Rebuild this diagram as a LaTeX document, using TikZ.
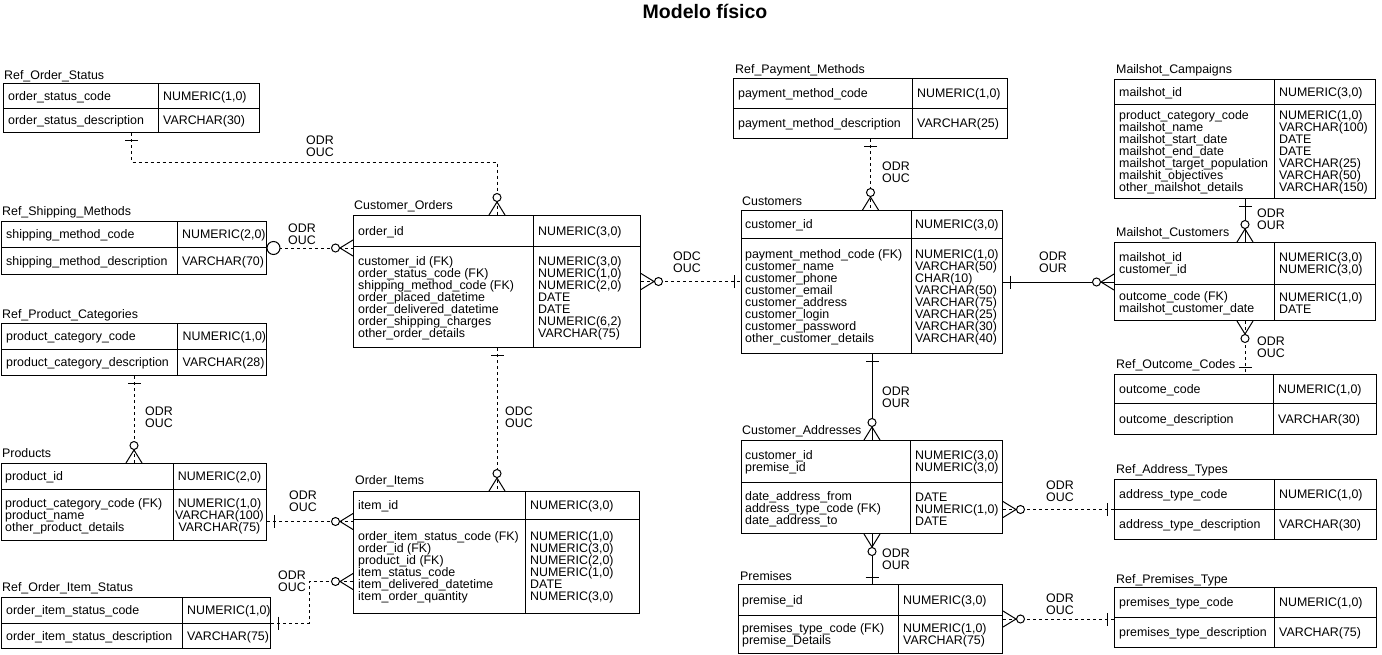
\documentclass[tikz,border=0pt]{standalone}
\usepackage{fontspec}
\setmainfont{Liberation Sans}
\usepackage{tikz}

\begin{document}
\begin{tikzpicture}[x=1pt, y=-1pt,
  tbl/.style={draw, line width=1pt, inner sep=0pt, anchor=north west},
  div/.style={line width=1pt},
  txt/.style={anchor=west, inner sep=0pt, align=left, yshift=-1.5pt, font=\fontsize{12.4}{12}\selectfont},
  rel/.style={line width=1pt},
  reld/.style={rel, dash pattern=on 3pt off 3pt},
  onemark/.pic={\draw[line width=1pt] (7,-6.5) -- (7,6.5);},
  manymark/.pic={\draw[line width=1pt] (0,-8) -- (13,0) -- (0,8);
    \draw[line width=1pt, fill=white] (17.5,0) circle[radius=4pt];},
  ringmark/.pic={\draw[line width=1pt, fill=white] (6.5,0) circle[radius=6.5pt];}]
\fill[white] (0,0) rectangle (1382,654);
\useasboundingbox (0,0) rectangle (1382,654);

\node[inner sep=0pt, font=\fontsize{19.5}{20}\bfseries\selectfont] (title) at (705,11) {Modelo físico};

% left column: reference tables and products
\node[txt] (ros-t) at (4,75) {Ref\_Order\_Status};
\node[tbl, minimum width=256pt, minimum height=49pt] (ros) at (3,83) {};
\draw[div] (3,108) -- (259,108) (158,83) -- (158,132);
\node[txt] (ros-a) at (8,95.5) {order\_status\_code};
\node[txt] (ros-b) at (8,120) {order\_status\_description};
\node[txt] (ros-c) at (163,95.5) {NUMERIC(1,0)};
\node[txt] (ros-d) at (163,120) {VARCHAR(30)};

\node[txt] (rsm-t) at (2,211) {Ref\_Shipping\_Methods};
\node[tbl, minimum width=265pt, minimum height=53pt] (rsm) at (1,221) {};
\draw[div] (1,247) -- (266,247) (177,221) -- (177,274);
\node[txt] (rsm-a) at (6,234) {shipping\_method\_code};
\node[txt] (rsm-b) at (6,260.5) {shipping\_method\_description};
\node[txt] (rsm-c) at (182,234) {NUMERIC(2,0)};
\node[txt] (rsm-d) at (182,260.5) {VARCHAR(70)};

\node[txt] (rpc-t) at (2,314) {Ref\_Product\_Categories};
\node[tbl, minimum width=265pt, minimum height=52pt] (rpc) at (1,323) {};
\draw[div] (1,349) -- (266,349) (177.5,323) -- (177.5,375);
\node[txt] (rpc-a) at (6,336) {product\_category\_code};
\node[txt] (rpc-b) at (6,362) {product\_category\_description};
\node[txt] (rpc-c) at (182.5,336) {NUMERIC(1,0)};
\node[txt] (rpc-d) at (182.5,362) {VARCHAR(28)};

\node[txt] (prod-t) at (2,452) {Products};
\node[tbl, minimum width=265pt, minimum height=77pt] (prod) at (1,463) {};
\draw[div] (1,489) -- (266,489) (173,463) -- (173,540);
\node[txt] (prod-a) at (5,476) {product\_id};
\node[txt] (prod-b) at (5,514.5) {product\_category\_code (FK)\\product\_name\\other\_product\_details};
\node[txt, anchor=center, align=center] (prod-c) at (219.5,476) {NUMERIC(2,0)};
\node[txt, anchor=center, align=center] (prod-d) at (219.5,514.5) {NUMERIC(1,0)\\VARCHAR(100)\\VARCHAR(75)};

\node[txt] (rois-t) at (2,587) {Ref\_Order\_Item\_Status};
\node[tbl, minimum width=269pt, minimum height=51pt] (rois) at (1,597) {};
\draw[div] (1,623) -- (270,623) (182,597) -- (182,648);
\node[txt] (rois-a) at (6,610) {order\_item\_status\_code};
\node[txt] (rois-b) at (6,635.5) {order\_item\_status\_description};
\node[txt] (rois-c) at (187,610) {NUMERIC(1,0)};
\node[txt] (rois-d) at (187,635.5) {VARCHAR(75)};

% middle: orders
\node[txt] (co-t) at (354,205) {Customer\_Orders};
\node[tbl, minimum width=287pt, minimum height=132pt] (co) at (353,215) {};
\draw[div] (353,246) -- (640,246) (533,215) -- (533,347);
\node[txt] (co-a) at (358,230.5) {order\_id};
\node[txt] (co-b) at (358,296.5) {customer\_id (FK)\\order\_status\_code (FK)\\shipping\_method\_code (FK)\\order\_placed\_datetime\\order\_delivered\_datetime\\order\_shipping\_charges\\other\_order\_details};
\node[txt] (co-c) at (538,230.5) {NUMERIC(3,0)};
\node[txt] (co-d) at (538,296.5) {NUMERIC(3,0)\\NUMERIC(1,0)\\NUMERIC(2,0)\\DATE\\DATE\\NUMERIC(6,2)\\VARCHAR(75)};

\node[txt] (oi-t) at (355,480) {Order\_Items};
\node[tbl, minimum width=286pt, minimum height=122pt] (oi) at (353,491) {};
\draw[div] (353,519) -- (639,519) (525,491) -- (525,613);
\node[txt] (oi-a) at (358,505) {item\_id};
\node[txt] (oi-b) at (358,566) {order\_item\_status\_code (FK)\\order\_id (FK)\\product\_id (FK)\\item\_status\_code\\item\_delivered\_datetime\\item\_order\_quantity};
\node[txt] (oi-c) at (530,505) {NUMERIC(3,0)};
\node[txt] (oi-d) at (530,566) {NUMERIC(1,0)\\NUMERIC(3,0)\\NUMERIC(2,0)\\NUMERIC(1,0)\\DATE\\NUMERIC(3,0)};

% right middle: customers
\node[txt] (rpm-t) at (735,69) {Ref\_Payment\_Methods};
\node[tbl, minimum width=274pt, minimum height=60pt] (rpm) at (733,78) {};
\draw[div] (733,108) -- (1007,108) (912,78) -- (912,138);
\node[txt] (rpm-a) at (738,93) {payment\_method\_code};
\node[txt] (rpm-b) at (738,123) {payment\_method\_description};
\node[txt] (rpm-c) at (917,93) {NUMERIC(1,0)};
\node[txt] (rpm-d) at (917,123) {VARCHAR(25)};

\node[txt] (cus-t) at (742,200) {Customers};
\node[tbl, minimum width=261pt, minimum height=143pt] (cus) at (741,210) {};
\draw[div] (741,238) -- (1002,238) (911,210) -- (911,353);
\node[txt] (cus-a) at (745,224) {customer\_id};
\node[txt] (cus-b) at (745,295.5) {payment\_method\_code (FK)\\customer\_name\\customer\_phone\\customer\_email\\customer\_address\\customer\_login\\customer\_password\\other\_customer\_details};
\node[txt] (cus-c) at (915,224) {NUMERIC(3,0)};
\node[txt] (cus-d) at (915,295.5) {NUMERIC(1,0)\\VARCHAR(50)\\CHAR(10)\\VARCHAR(50)\\VARCHAR(75)\\VARCHAR(25)\\VARCHAR(30)\\VARCHAR(40)};

\node[txt] (ca-t) at (742,430) {Customer\_Addresses};
\node[tbl, minimum width=261pt, minimum height=93pt] (ca) at (741,440) {};
\draw[div] (741,482) -- (1002,482) (910,440) -- (910,533);
\node[txt] (ca-a) at (745,461) {customer\_id\\premise\_id};
\node[txt] (ca-b) at (745,507.5) {date\_address\_from\\address\_type\_code (FK)\\date\_address\_to};
\node[txt] (ca-c) at (915,461) {NUMERIC(3,0)\\NUMERIC(3,0)};
\node[txt] (ca-d) at (915,507.5) {DATE\\NUMERIC(1,0)\\DATE};

\node[txt] (prem-t) at (740,575) {Premises};
\node[tbl, minimum width=264pt, minimum height=69pt] (prem) at (738,584) {};
\draw[div] (738,615) -- (1002,615) (898,584) -- (898,653);
\node[txt] (prem-a) at (742,599.5) {premise\_id};
\node[txt] (prem-b) at (742,634) {premises\_type\_code (FK)\\premise\_Details};
\node[txt] (prem-c) at (903,599.5) {NUMERIC(3,0)};
\node[txt] (prem-d) at (903,634) {NUMERIC(1,0)\\VARCHAR(75)};

% right column: mailshots and codes
\node[txt] (mca-t) at (1116,69) {Mailshot\_Campaigns};
\node[tbl, minimum width=261pt, minimum height=119pt] (mca) at (1114,79) {};
\draw[div] (1114,104) -- (1375,104) (1274,79) -- (1274,198);
\node[txt] (mca-a) at (1119,91.5) {mailshot\_id};
\node[txt] (mca-b) at (1119,151) {product\_category\_code\\mailshot\_name\\mailshot\_start\_date\\mailshot\_end\_date\\mailshot\_target\_population\\mailshit\_objectives\\other\_mailshot\_details};
\node[txt] (mca-c) at (1279,91.5) {NUMERIC(3,0)};
\node[txt] (mca-d) at (1279,151) {NUMERIC(1,0)\\VARCHAR(100)\\DATE\\DATE\\VARCHAR(25)\\VARCHAR(50)\\VARCHAR(150)};

\node[txt] (mcu-t) at (1116,232) {Mailshot\_Customers};
\node[tbl, minimum width=261pt, minimum height=78pt] (mcu) at (1114,242) {};
\draw[div] (1114,284) -- (1375,284) (1274,242) -- (1274,320);
\node[txt] (mcu-a) at (1119,263) {mailshot\_id\\customer\_id};
\node[txt] (mcu-b) at (1119,302) {outcome\_code (FK)\\mailshot\_customer\_date};
\node[txt] (mcu-c) at (1279,263) {NUMERIC(3,0)\\NUMERIC(3,0)};
\node[txt] (mcu-d) at (1279,302) {NUMERIC(1,0)\\DATE};

\node[txt] (roc-t) at (1116,364) {Ref\_Outcome\_Codes};
\node[tbl, minimum width=262pt, minimum height=60pt] (roc) at (1114,374) {};
\draw[div] (1114,403) -- (1376,403) (1273,374) -- (1273,434);
\node[txt] (roc-a) at (1119,388.5) {outcome\_code};
\node[txt] (roc-b) at (1119,418.5) {outcome\_description};
\node[txt] (roc-c) at (1278,388.5) {NUMERIC(1,0)};
\node[txt] (roc-d) at (1278,418.5) {VARCHAR(30)};

\node[txt] (rat-t) at (1116,469) {Ref\_Address\_Types};
\node[tbl, minimum width=262pt, minimum height=60pt] (rat) at (1114,479) {};
\draw[div] (1114,509) -- (1376,509) (1274,479) -- (1274,539);
\node[txt] (rat-a) at (1119,494) {address\_type\_code};
\node[txt] (rat-b) at (1119,524) {address\_type\_description};
\node[txt] (rat-c) at (1279,494) {NUMERIC(1,0)};
\node[txt] (rat-d) at (1279,524) {VARCHAR(30)};

\node[txt] (rpt-t) at (1116,579) {Ref\_Premises\_Type};
\node[tbl, minimum width=262pt, minimum height=60pt] (rpt) at (1114,587) {};
\draw[div] (1114,617) -- (1376,617) (1274,587) -- (1274,647);
\node[txt] (rpt-a) at (1119,602) {premises\_type\_code};
\node[txt] (rpt-b) at (1119,632) {premises\_type\_description};
\node[txt] (rpt-c) at (1279,602) {NUMERIC(1,0)};
\node[txt] (rpt-d) at (1279,632) {VARCHAR(75)};

% relationships
\draw[reld] (ros.south) -- ++(0,29) -| (co.north);
\pic[rotate=-90] at (ros.south) {onemark};
\pic[rotate=90] at (co.north) {manymark};
\node[txt] (l1) at (306,145) {ODR\\OUC};

\draw[reld] (rsm.east) -- (rsm.east -| co.west);
\pic at (rsm.east) {ringmark};
\pic[rotate=180] at (rsm.east -| co.west) {manymark};
\node[txt] (l2) at (288,233) {ODR\\OUC};

\draw[reld] (rpc.south) -- (rpc.south |- prod.north);
\pic[rotate=-90] at (rpc.south) {onemark};
\pic[rotate=90] at (rpc.south |- prod.north) {manymark};
\node[txt] (l3) at (145,416) {ODR\\OUC};

\coordinate (oi-in1) at ([yshift=31pt]oi.west);
\draw[reld] (oi-in1 -| prod.east) -- (oi-in1);
\pic at (oi-in1 -| prod.east) {onemark};
\pic[rotate=180] at (oi-in1) {manymark};
\node[txt] (l4) at (289,500) {ODR\\OUC};

\coordinate (oi-in2) at ([yshift=-29pt]oi.west);
\draw[reld] (rois.east) -- ++(38,0) |- (oi-in2);
\pic at (rois.east) {onemark};
\pic[rotate=180] at (oi-in2) {manymark};
\node[txt] (l5) at (278,579.5) {ODR\\OUC};

\draw[reld] (co.south) -- (co.south |- oi.north);
\pic[rotate=-90] at (co.south) {onemark};
\pic[rotate=90] at (co.south |- oi.north) {manymark};
\node[txt] (l6) at (505,416) {ODC\\OUC};

\draw[reld] (co.east) -- (co.east -| cus.west);
\pic at (co.east) {manymark};
\pic[rotate=180] at (co.east -| cus.west) {onemark};
\node[txt] (l7) at (673,261) {ODC\\OUC};

\draw[reld] (rpm.south) -- (rpm.south |- cus.north);
\pic[rotate=-90] at (rpm.south) {onemark};
\pic[rotate=90] at (rpm.south |- cus.north) {manymark};
\node[txt] (l8) at (882,171) {ODR\\OUC};

\draw[rel] (cus.east) -- (cus.east -| mcu.west);
\pic at (cus.east) {onemark};
\pic[rotate=180] at (cus.east -| mcu.west) {manymark};
\node[txt] (l9) at (1039,261) {ODR\\OUR};

\draw[rel] (cus.south) -- (cus.south |- ca.north);
\pic[rotate=-90] at (cus.south) {onemark};
\pic[rotate=90] at (cus.south |- ca.north) {manymark};
\node[txt] (l10) at (882,395.5) {ODR\\OUR};

\draw[rel] (ca.south) -- (ca.south |- prem.north);
\pic[rotate=-90] at (ca.south) {manymark};
\pic[rotate=90] at (ca.south |- prem.north) {onemark};
\node[txt] (l11) at (882,557.5) {ODR\\OUR};

\draw[reld] (rat.west -| ca.east) -- (rat.west);
\pic at (rat.west -| ca.east) {manymark};
\pic[rotate=180] at (rat.west) {onemark};
\node[txt] (l12) at (1046,490) {ODR\\OUC};

\draw[reld] (prem.east) -- (prem.east -| rpt.west);
\pic at (prem.east) {manymark};
\pic[rotate=180] at (prem.east -| rpt.west) {onemark};
\node[txt] (l13) at (1046,602.5) {ODR\\OUC};

\draw[rel] (mca.south) -- (mca.south |- mcu.north);
\pic[rotate=-90] at (mca.south) {onemark};
\pic[rotate=90] at (mca.south |- mcu.north) {manymark};
\node[txt] (l14) at (1257,218) {ODR\\OUR};

\draw[reld] (mcu.south) -- (mcu.south |- roc.north);
\pic[rotate=-90] at (mcu.south) {manymark};
\pic[rotate=90] at (mcu.south |- roc.north) {onemark};
\node[txt] (l15) at (1257,346) {ODR\\OUC};
\end{tikzpicture}
\end{document}
